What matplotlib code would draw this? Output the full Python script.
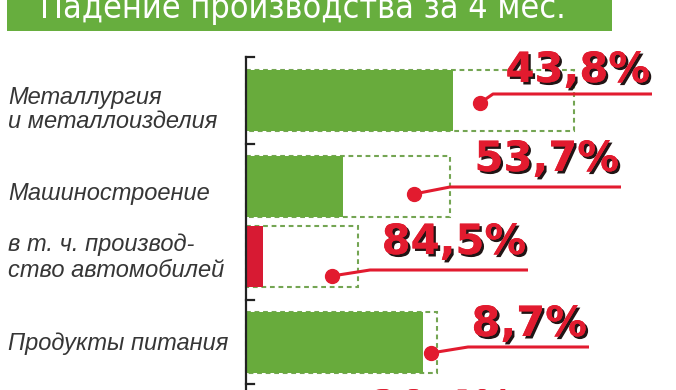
import matplotlib
matplotlib.use("Agg")
import matplotlib.pyplot as plt
from matplotlib.patches import Rectangle
from matplotlib import patheffects as pe
from matplotlib import font_manager

# ---------------- data ----------------
title = "Падение производства за 4 мес."
categories = ["Металлургия\nи металлоизделия",
              "Машиностроение",
              "в т. ч. производ-\nство автомобилей",
              "Продукты питания"]
drop_labels = ["43,8%", "53,7%", "84,5%", "8,7%"]
prev_level = [328, 204, 112, 191]   # dashed outline (last year), arbitrary units
curr_level = [207, 97, 17, 177]     # filled bar (this year)
group = [0, 1, 1, 2]                # rows 2 and 3 belong together
bar_colors = ["#68ab3c", "#68ab3c", "#d71a33", "#68ab3c"]
next_label = "20,4%"                # next row, cut off at the bottom edge

# ---------------- style ----------------
GREEN = "#67ae3e"
DASH = "#74a553"
RED = "#e21b2f"
names = {f.name for f in font_manager.fontManager.ttflist}
narrow = "Liberation Sans Narrow" if "Liberation Sans Narrow" in names else None

fig = plt.figure(figsize=(6.76, 3.90), dpi=100)
fig.patch.set_facecolor("white")
ax = fig.add_axes([0, 0, 1, 1])
X0 = 246                       # pixel position of value axis
ax.set_xlim(-X0, 676 - X0)
ax.set_ylim(390, 0)
ax.axis("off")

# title banner
ax.add_patch(Rectangle((7 - X0, -5), 605, 36, facecolor=GREEN, edgecolor="none", zorder=1))
if narrow:
    ax.text(40 - X0, 18, title, color="white", fontsize=27.2, family=narrow,
            va="baseline", ha="left", zorder=2)
else:
    ax.text(40 - X0, 18, title, color="white", fontsize=24.5, family="DejaVu Sans",
            fontstretch="condensed", va="baseline", ha="left", zorder=2)

# row layout (pixels)
bar_h = 61
tops = []
y = 70
for i in range(len(categories)):
    if i > 0:
        y += bar_h + (9 if group[i] == group[i - 1] else 25)
    tops.append(y)

# annotation layout: dot, elbow, line end, text baseline
dot_pos = [(234, 103), (168, 194), (86, 276), (185, 353)]
elbow = [(247, 94), (204, 187), (124, 270), (222, 347)]
line_end = [406, 375, 282, 343]
text_base = [82, 171, 254, 336]
label_base_off = [58, 44, 51, 38]     # baseline of the last label line below bar top
label_spacing = [1.06, 1.0, 1.19, 1.0]

shadow = [pe.withSimplePatchShadow(offset=(1.8, -1.8), shadow_rgbFace="#140808", alpha=0.95),
          pe.Normal()]

for i, cat in enumerate(categories):
    top = tops[i]
    # dashed outline
    ax.add_patch(Rectangle((0, top), prev_level[i], bar_h, fill=False,
                           edgecolor=DASH, lw=1.5, ls=(0, (2.3, 1.8)), zorder=2))
    # filled bar
    ax.barh(top + bar_h / 2, curr_level[i], height=bar_h, left=0,
            color=bar_colors[i], edgecolor="none", zorder=3)
    # category label
    ax.text(8 - X0, top + label_base_off[i], cat, fontsize=17, style="italic",
            family="Liberation Sans", color="#363636", va="baseline", ha="left",
            linespacing=label_spacing[i])
    # callout
    dx, dy = dot_pos[i]
    ex, ey = elbow[i]
    ax.plot([dx, ex, line_end[i]], [dy, ey, ey], color=RED, lw=2.2,
            solid_capstyle="butt", zorder=5)
    ax.plot([dx], [dy], "o", color=RED, ms=10, zorder=6)
    ax.text(line_end[i] - 2, text_base[i], drop_labels[i], color=RED, fontsize=30,
            fontweight="bold", family="DejaVu Sans", ha="right", va="baseline",
            zorder=7, path_effects=shadow)

# partially visible next label
ax.text(124, 420, next_label, color=RED, fontsize=30, fontweight="bold",
        family="DejaVu Sans", ha="left", va="baseline", zorder=7,
        path_effects=shadow)

# value axis with group ticks
ax.plot([0, 0], [57, 392], color="#222222", lw=1.6, zorder=8)
ticks = [tops[0] - 13]
for i in range(1, len(categories)):
    if group[i] != group[i - 1]:
        ticks.append((tops[i - 1] + bar_h + tops[i]) / 2)
ticks.append(tops[-1] + bar_h + 11)
for t in ticks:
    ax.plot([0, 8], [t, t], color="#222222", lw=1.6, zorder=8)

fig.savefig("out.png", dpi=100, facecolor="white")
